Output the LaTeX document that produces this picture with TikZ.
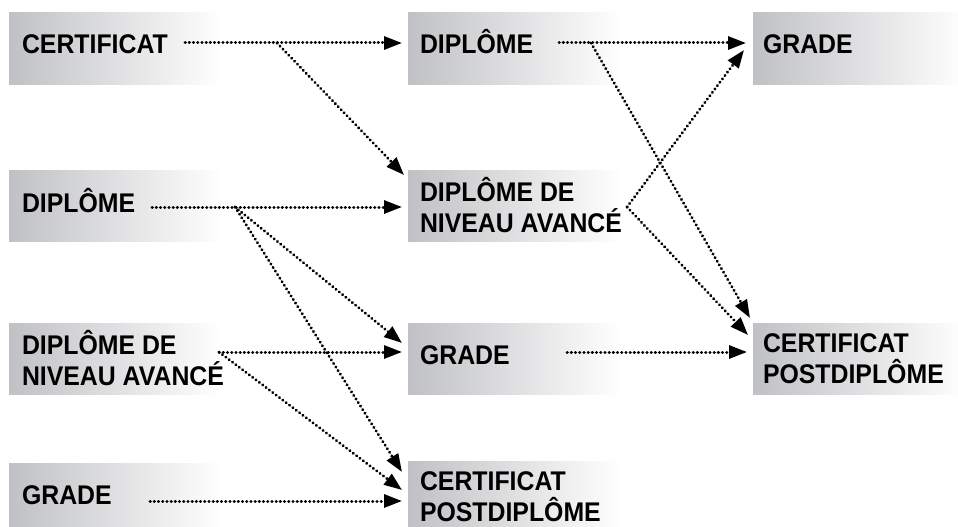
\documentclass[tikz,border=0pt]{standalone}
\usepackage{fontspec}
\setmainfont{Liberation Sans}[FakeStretch=0.92]
\usetikzlibrary{arrows.meta}
\definecolor{boxgray}{RGB}{192,193,196}
\tikzset{
  box/.style={rectangle, left color=boxgray, right color=white, draw=none,
    minimum width=214pt, minimum height=71pt, inner sep=0pt},
  lbl/.style={inner sep=0pt, align=left, anchor=west,
    font=\fontsize{27}{31}\selectfont\bfseries},
  conn/.style={line width=3pt, line cap=round, dash pattern=on 0.3pt off 3.9pt,
    -{Triangle[length=18pt,width=13pt]}},
}
\begin{document}
\begin{tikzpicture}[x=1pt,y=-1pt]
\useasboundingbox (0,0) rectangle (958,527);
\begin{scope}
\clip (0,0) rectangle (958,527);
% left column
\node[box] (L1) at (116,48.5) {};
\node[box] (L2) at (116,205.5) {};
\node[box] (L3) at (116,358.5) {};
\node[box] (L4) at (116,498.5) {};
% middle column
\node[box] (M1) at (515,48.5) {};
\node[box] (M2) at (515,205.5) {};
\node[box] (M3) at (515,358.5) {};
\node[box] (M4) at (515,496.5) {};
% right column
\node[box] (R1) at (860,48.5) {};
\node[box] (R3) at (860,358.5) {};
\end{scope}
% labels
\node[lbl, anchor=base west] (L1t) at ([xshift=13pt,yshift=-5pt]L1.west) {CERTIFICAT};
\node[lbl, anchor=base west] (L2t) at ([xshift=13pt,yshift=-7pt]L2.west) {DIPLÔME};
\node[lbl] (L3t) at ([xshift=13pt,yshift=0pt]L3.west) {DIPLÔME DE\\NIVEAU AVANCÉ};
\node[lbl, anchor=base west] (L4t) at ([xshift=13pt,yshift=-6pt]L4.west) {GRADE};
\node[lbl, anchor=base west] (M1t) at ([xshift=12pt,yshift=-5pt]M1.west) {DIPLÔME};
\node[lbl] (M2t) at ([xshift=12pt,yshift=0pt]M2.west) {DIPLÔME DE\\NIVEAU AVANCÉ};
\node[lbl, anchor=base west] (M3t) at ([xshift=12pt,yshift=-6pt]M3.west) {GRADE};
\node[lbl] (M4t) at ([xshift=12pt,yshift=0pt]M4.west) {CERTIFICAT\\POSTDIPLÔME};
\node[lbl, anchor=base west] (R1t) at ([xshift=10pt,yshift=-5pt]R1.west) {GRADE};
\node[lbl] (R3t) at ([xshift=10pt,yshift=0pt]R3.west) {CERTIFICAT\\POSTDIPLÔME};
% connector end points
\coordinate (aS) at (185,43);   \coordinate (aE) at (402,43);
\coordinate (bS) at (277,43);   \coordinate (bE) at (404,175);
\coordinate (cS) at (152,207);  \coordinate (cE) at (402,207);
\coordinate (dS) at (235,207);  \coordinate (dE) at (402,343);
\coordinate (eE) at (402,472);
\coordinate (fS) at (219,352);  \coordinate (fE) at (402,352);
\coordinate (gE) at (402,490);
\coordinate (hS) at (150,501);  \coordinate (hE) at (402,501);
\coordinate (iS) at (559,43);   \coordinate (iE) at (746,43);
\coordinate (jS) at (591,43);   \coordinate (jE) at (750,318);
\coordinate (kS) at (627,207);  \coordinate (kE) at (744,50);
\coordinate (lE) at (748,335);
\coordinate (mS) at (567,352);  \coordinate (mE) at (747,352);
% connectors
\draw[conn] (aS) -- (aE);
\draw[conn] (bS) -- (bE);
\draw[conn] (cS) -- (cE);
\draw[conn] (dS) -- (dE);
\draw[conn] (dS) -- (eE);
\draw[conn] (fS) -- (fE);
\draw[conn] (fS) -- (gE);
\draw[conn] (hS) -- (hE);
\draw[conn] (iS) -- (iE);
\draw[conn] (jS) -- (jE);
\draw[conn] (kS) -- (kE);
\draw[conn] (kS) -- (lE);
\draw[conn] (mS) -- (mE);
\end{tikzpicture}
\end{document}
